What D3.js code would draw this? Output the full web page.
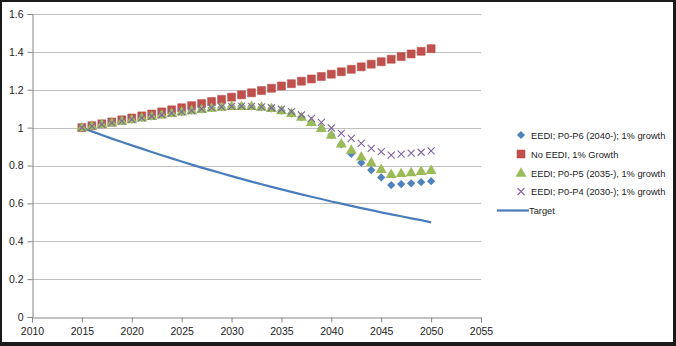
<!DOCTYPE html>
<html><head><meta charset="utf-8">
<script src="https://cdn.jsdelivr.net/npm/d3@7"></script>
<style>html,body{margin:0;padding:0;background:#fff}svg{display:block}</style>
</head><body>
<script>
const years = [2015,2016,2017,2018,2019,2020,2021,2022,2023,2024,2025,2026,2027,2028,2029,2030,2031,2032,2033,2034,2035,2036,2037,2038,2039,2040,2041,2042,2043,2044,2045,2046,2047,2048,2049,2050];
const eediP6 = [1.000,1.008,1.017,1.025,1.034,1.043,1.052,1.060,1.068,1.076,1.083,1.090,1.097,1.103,1.108,1.112,1.113,1.112,1.108,1.102,1.090,1.075,1.055,1.028,0.996,0.961,0.912,0.862,0.815,0.776,0.737,0.697,0.702,0.706,0.712,0.717];
const noEedi = [1.000,1.010,1.020,1.030,1.041,1.051,1.062,1.072,1.083,1.094,1.105,1.116,1.127,1.138,1.149,1.161,1.173,1.184,1.196,1.208,1.220,1.232,1.245,1.257,1.270,1.282,1.295,1.308,1.321,1.335,1.348,1.361,1.375,1.389,1.403,1.417];
const eediP5 = [1.000,1.008,1.017,1.025,1.034,1.043,1.052,1.060,1.068,1.076,1.083,1.090,1.097,1.103,1.108,1.112,1.113,1.112,1.108,1.102,1.090,1.075,1.055,1.028,0.996,0.961,0.915,0.882,0.846,0.815,0.780,0.753,0.758,0.763,0.769,0.775];
const eediP4 = [1.000,1.008,1.017,1.025,1.034,1.043,1.052,1.060,1.068,1.076,1.083,1.090,1.099,1.106,1.110,1.112,1.113,1.112,1.110,1.105,1.097,1.085,1.067,1.049,1.028,0.998,0.970,0.943,0.917,0.891,0.873,0.855,0.860,0.865,0.870,0.877];
const target = [1.000,0.980,0.961,0.942,0.924,0.906,0.889,0.871,0.854,0.838,0.821,0.805,0.789,0.774,0.759,0.744,0.729,0.715,0.701,0.687,0.674,0.661,0.648,0.635,0.623,0.610,0.599,0.587,0.575,0.564,0.553,0.542,0.532,0.521,0.511,0.500];
const xTicks = [2010,2015,2020,2025,2030,2035,2040,2045,2050,2055];
const yTicks = [0,0.2,0.4,0.6,0.8,1,1.2,1.4,1.6];
const seriesNames = ["EEDI; P0-P6 (2040-); 1% growth","No EEDI, 1% Growth","EEDI; P0-P5 (2035-), 1% growth","EEDI; P0-P4 (2030-); 1% growth","Target"];

const W = 676, H = 346;
const svg = d3.select("body").append("svg").attr("width", W).attr("height", H);
svg.append("rect").attr("width", W).attr("height", H).attr("fill", "#1a1a1a");
svg.append("rect").attr("x", 2).attr("y", 2).attr("width", 671).attr("height", 340).attr("fill", "#fff");

const x = d3.scaleLinear().domain([2010, 2055]).range([32, 481]);
const y = d3.scaleLinear().domain([0, 1.6]).range([317, 14]);
const font = "'Liberation Sans', Arial, sans-serif";

// gridlines
svg.append("g").selectAll("line").data(yTicks.filter(d => d > 0)).join("line")
  .attr("x1", x(2010)).attr("x2", x(2055))
  .attr("y1", d => Math.round(y(d)) + 0.5).attr("y2", d => Math.round(y(d)) + 0.5)
  .attr("stroke", "#c0c0c0").attr("stroke-width", 1);

// axes
const xAxis = svg.append("g").attr("transform", `translate(0,${Math.round(y(0)) + 0.5})`)
  .call(d3.axisBottom(x).tickValues(xTicks).tickFormat(d3.format("d")).tickSize(5).tickPadding(5));
const yAxis = svg.append("g").attr("transform", `translate(${Math.round(x(2010)) + 0.5},0)`)
  .call(d3.axisLeft(y).tickValues(yTicks).tickFormat(d => d3.format("")(d)).tickSize(5).tickPadding(4));
[xAxis, yAxis].forEach(a => {
  a.select(".domain").attr("stroke", "#868686");
  a.selectAll(".tick line").attr("stroke", "#868686");
  a.selectAll(".tick text").attr("fill", "#222").attr("font-family", font).attr("font-size", 10.5);
});

const idx = d3.range(years.length);
const g = svg.append("g");

// target line
g.append("path").datum(idx)
  .attr("fill", "none").attr("stroke", "#4a7ebb").attr("stroke-width", 2.25)
  .attr("d", d3.line().x(i => x(years[i])).y(i => y(target[i])));

const diamond = d3.symbol().type(d3.symbolSquare).size(34)();
const square = d3.symbol().type(d3.symbolSquare).size(64)();
const tri = d3.symbol().type(d3.symbolTriangle).size(52)();

function marker(sel, kind) {
  if (kind === "diamond") {
    sel.append("path").attr("d", diamond).attr("transform", "rotate(45)").attr("fill", "#4f81bd");
  } else if (kind === "square") {
    sel.append("path").attr("d", square).attr("fill", "#c0504d").attr("stroke", "#b8463f").attr("stroke-width", 0.5);
  } else if (kind === "tri") {
    sel.append("path").attr("d", tri).attr("transform", "translate(0,0.5)").attr("fill", "#9bbb59");
  } else if (kind === "x") {
    sel.append("path").attr("d", "M-3.5,-3.5L3.5,3.5M-3.5,3.5L3.5,-3.5").attr("stroke", "#8064a2").attr("stroke-width", 1.1).attr("fill", "none");
  }
}

const series = [
  {vals: eediP6, kind: "diamond"},
  {vals: noEedi, kind: "square"},
  {vals: eediP5, kind: "tri"},
  {vals: eediP4, kind: "x"}
];
series.forEach(s => {
  g.append("g").selectAll("g").data(idx).join("g")
    .attr("transform", i => `translate(${x(years[i])},${y(s.vals[i])})`)
    .each(function() { marker(d3.select(this), s.kind); });
});

// legend
const legY = [135, 154, 173, 191.5, 210.5];
const leg = svg.append("g");
seriesNames.forEach((name, k) => {
  const row = leg.append("g").attr("transform", `translate(0,${legY[k]})`);
  if (k < 4) {
    const m = row.append("g").attr("transform", "translate(521,0)");
    marker(m, series[k].kind);
    row.append("text").attr("x", 531).attr("y", 3.5).text(name)
      .attr("font-family", font).attr("font-size", 9.3).attr("fill", "#222");
  } else {
    row.append("line").attr("x1", 497).attr("x2", 529).attr("y1", 0).attr("y2", 0)
      .attr("stroke", "#4a7ebb").attr("stroke-width", 2.25);
    row.append("text").attr("x", 529).attr("y", 3.5).text(name)
      .attr("font-family", font).attr("font-size", 9.3).attr("fill", "#222");
  }
});
</script>
</body></html>
